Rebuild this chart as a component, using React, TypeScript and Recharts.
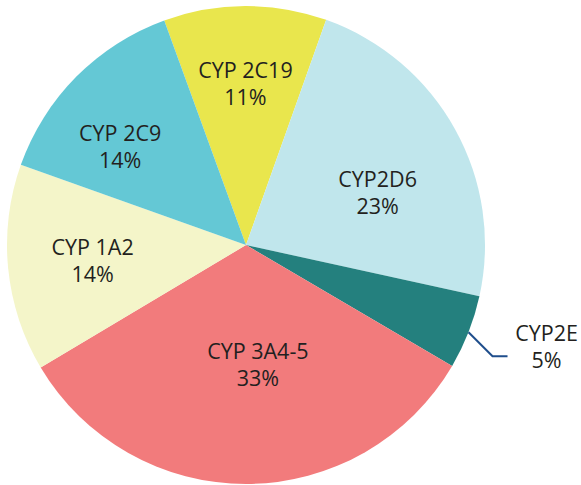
import { PieChart, Pie, Cell } from "recharts";

const names = ["CYP 2C19", "CYP2D6", "CYP2E", "CYP 3A4-5", "CYP 1A2", "CYP 2C9"];
const values = [11, 23, 5, 33, 14, 14];
const colors = ["#e9e64d", "#c0e6ec", "#24807e", "#f27b7c", "#f4f5c9", "#64c8d5"];

// label placement tweaks (radius as share of outer radius, angle shift in degrees)
const labelRadius = [0.676, 0.594, 1, 0.5, 0.645, 0.67];
const labelShift = [0, -7, 0, 5.5, 0, 6.6];

const data = names.map((name, i) => ({ name, value: values[i] }));

const RAD = Math.PI / 180;
const FONT = "'Open Sans', 'Noto Sans', sans-serif";
const FS = 21.5;

const renderLabel = (props: any) => {
  const { cx, cy, midAngle, outerRadius, index, name, value } = props;
  if (name === "CYP2E") {
    const sx = cx + outerRadius * Math.cos(-midAngle * RAD);
    const sy = cy + outerRadius * Math.sin(-midAngle * RAD);
    const mx = sx + 24;
    const my = sy + 24;
    const ex = mx + 15;
    return (
      <g>
        <polyline points={`${sx},${sy} ${mx},${my} ${ex},${my}`} fill="none" stroke="#1f4e8c" strokeWidth={2} />
        <text x={ex + 39} y={my - 24} textAnchor="middle" dominantBaseline="central" fill="#231f20" fontSize={FS} fontFamily={FONT}>
          {name}
        </text>
        <text x={ex + 39} y={my + 3} textAnchor="middle" dominantBaseline="central" fill="#231f20" fontSize={FS} fontFamily={FONT}>
          {value}%
        </text>
      </g>
    );
  }
  const a = (midAngle + labelShift[index]) * RAD;
  const r = outerRadius * labelRadius[index];
  const x = cx + r * Math.cos(-a);
  const y = cy + r * Math.sin(-a);
  return (
    <g>
      <text x={x} y={y - 13.5} textAnchor="middle" dominantBaseline="central" fill="#231f20" fontSize={FS} fontFamily={FONT}>
        {name}
      </text>
      <text x={x} y={y + 13.5} textAnchor="middle" dominantBaseline="central" fill="#231f20" fontSize={FS} fontFamily={FONT}>
        {value}%
      </text>
    </g>
  );
};

export default function App() {
  return (
    <div style={{ position: "absolute", left: 0, top: 0, width: 581, height: 485, background: "#fff" }}>
      <PieChart width={581} height={485} margin={{ top: 0, right: 0, bottom: 0, left: 0 }}>
        <Pie
          data={data}
          dataKey="value"
          nameKey="name"
          cx={246}
          cy={245}
          outerRadius={239}
          startAngle={110}
          endAngle={-250}
          stroke="none"
          label={renderLabel}
          labelLine={false}
          isAnimationActive={false}
        >
          {data.map((d, i) => (
            <Cell key={d.name} fill={colors[i]} />
          ))}
        </Pie>
      </PieChart>
    </div>
  );
}
